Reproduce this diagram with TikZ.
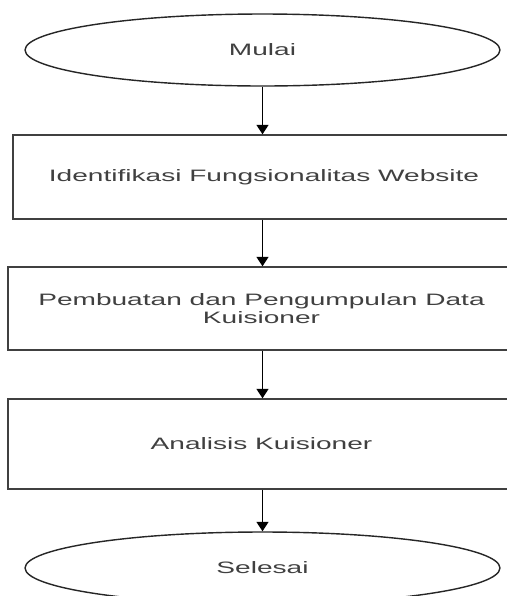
\documentclass[tikz,border=0pt]{standalone}
\usepackage{fontspec}
\newfontfamily\flowfont{Liberation Sans}[FakeStretch=1.7]
\usetikzlibrary{shapes.geometric, arrows.meta}

\begin{document}
\begin{tikzpicture}[
  x=0.02cm, y=-0.02cm,
  % Node styles
  termbox/.style={ellipse, draw=black!85, fill=white, line width=0.8pt,
    minimum width=9.5cm, minimum height=1.44cm, inner sep=0pt,
    text=black!75, font=\flowfont\fontsize{9.4}{10.6}\selectfont},
  procbox/.style={rectangle, draw=black!75, fill=white, line width=0.8pt,
    minimum width=10.14cm, inner sep=0pt, align=center,
    text=black!75, font=\flowfont\fontsize{9.4}{10.6}\selectfont},
  arr/.style={-{Triangle[width=0.24cm, length=0.19cm]}, draw=black, line width=0.8pt},
]

% === Frame (cropped like the screenshot) ===
\clip (0,0) rectangle (507,596);

% === Start / end ===
\node[termbox] (mulai) at (262.5, 50) {Mulai};
\node[termbox] (selesai) at (262.5, 568) {Selesai};

% === Process steps ===
\node[procbox, minimum width=10.04cm, minimum height=1.68cm] (identifikasi) at (264, 177)
  {Identifikasi Fungsionalitas Website};
\node[procbox, minimum height=1.66cm] (pembuatan) at (261.5, 308.5)
  {Pembuatan dan Pengumpulan Data\\Kuisioner};
\node[procbox, minimum height=1.8cm] (analisis) at (261.5, 444)
  {Analisis Kuisioner};

% === Arrows ===
\draw[arr] (mulai.south) -- (mulai.south |- identifikasi.north);
\draw[arr] (mulai.south |- identifikasi.south) -- (mulai.south |- pembuatan.north);
\draw[arr] (mulai.south |- pembuatan.south) -- (mulai.south |- analisis.north);
\draw[arr] (mulai.south |- analisis.south) -- (selesai.north);

\end{tikzpicture}
\end{document}
